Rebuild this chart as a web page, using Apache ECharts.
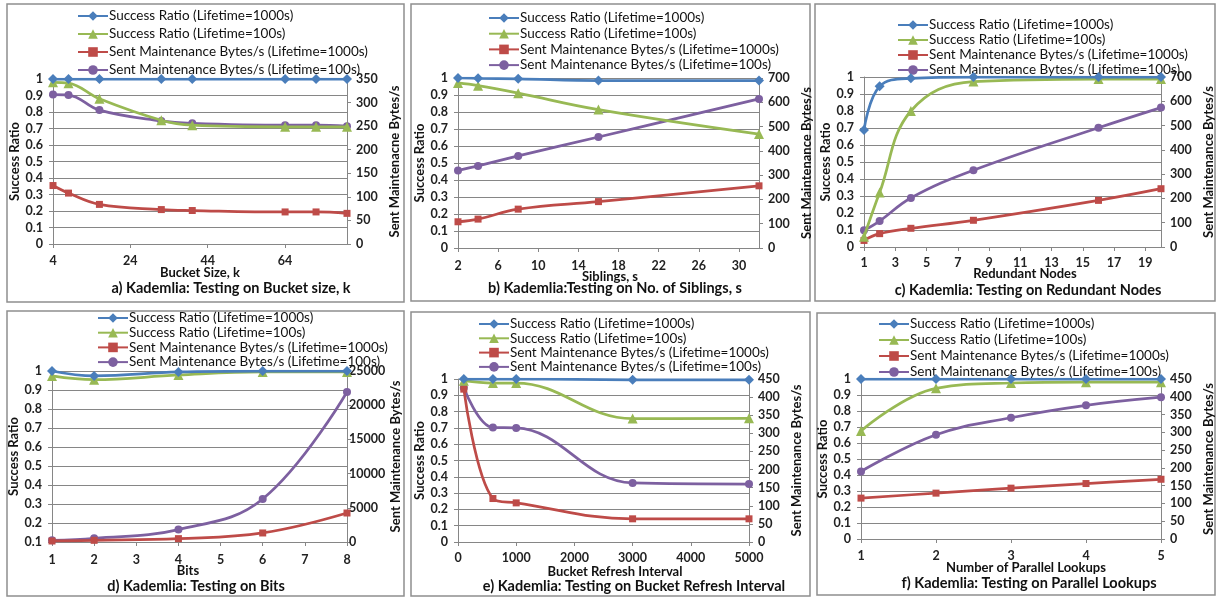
<!DOCTYPE html>
<html><head><meta charset="utf-8">
<script src="https://cdn.jsdelivr.net/npm/echarts@6/dist/echarts.min.js"></script>
<style>html,body{margin:0;padding:0;background:#fff}#c{width:1216px;height:598px}</style>
</head><body><div id="c"></div>
<script>
// ---------- data ----------
const seriesNames = ['Success Ratio (Lifetime=1000s)','Success Ratio (Lifetime=100s)','Sent Maintenance Bytes/s (Lifetime=1000s)','Sent Maintenance Bytes/s (Lifetime=100s)'];

const aX = [4, 8, 16, 32, 40, 64, 72, 80];
const aSR1000 = [1, 1, 1, 1, 1, 1, 1, 1];
const aSR100 = [0.98, 0.975, 0.88, 0.75, 0.72, 0.71, 0.71, 0.71];
const aMB1000 = [124, 108, 84, 73, 71, 68, 68, 65];
const aMB100 = [317, 316, 284, 261, 256, 252, 252, 250];
const aTicks = [4, 24, 44, 64];

const bX = [2, 4, 8, 16, 32];
const bSR1000 = [1, 0.998, 0.995, 0.985, 0.985];
const bSR100 = [0.971, 0.955, 0.911, 0.814, 0.67];
const bMB1000 = [108, 119, 160, 191, 256];
const bMB100 = [319, 338, 379, 457, 614];
const bTicks = [2, 6, 10, 14, 18, 22, 26, 30];

const cX = [1, 2, 4, 8, 16, 20];
const cSR1000 = [0.688, 0.945, 0.992, 1, 1, 1];
const cSR100 = [0.06, 0.32, 0.8, 0.973, 0.988, 0.988];
const cMB1000 = [27, 55, 77, 110, 192, 240];
const cMB100 = [69, 107, 202, 316, 491, 574];
const cTicks = [1, 3, 5, 7, 9, 11, 13, 15, 17, 19];

const dX = [1, 2, 4, 6, 8];
const dSR1000 = [1, 0.974, 0.995, 1, 1];
const dSR100 = [0.974, 0.954, 0.979, 0.995, 0.995];
const dMB1000 = [150, 245, 490, 1320, 4240];
const dMB100 = [245, 540, 1820, 6290, 21930];
const dTicks = [1, 2, 3, 4, 5, 6, 7, 8];

const eX = [100, 600, 1000, 3000, 5000];
const eSR1000 = [1, 1, 1, 0.995, 0.995];
const eSR100 = [0.99, 0.975, 0.975, 0.757, 0.759];
const eMB1000 = [422, 120, 108, 64, 64];
const eMB100 = [426, 316, 315, 163, 160];
const eTicks = [0, 1000, 2000, 3000, 4000, 5000];

const fX = [1, 2, 3, 4, 5];
const fSR1000 = [1, 1, 1, 1, 1];
const fSR100 = [0.675, 0.942, 0.975, 0.98, 0.98];
const fMB1000 = [115, 129, 143, 156, 168];
const fMB100 = [190, 293, 341, 376, 399];
const fTicks = [1, 2, 3, 4, 5];

// ---------- layout / style ----------
const FONT = 'Lato';
const COLORS = ['#4A7EBB', '#98B954', '#BE4B48', '#7D60A0'];
const SYMBOLS = ['diamond', 'triangle', 'rect', 'circle'];
const SYMSIZE = [10, 10, 7, 8];
const AXC = '#868686';

const panels = [
  {x: aX, s: [aSR1000, aSR100, aMB1000, aMB100], ticks: aTicks, xmin: 4, xmax: 80, ymin: 0, rmax: 350, rint: 50,
   grid: {left: 53, top: 79, width: 294, height: 165}, legend: {left: 77, top: 9, gap: 4},
   xname: 'Bucket Size, k', xnx: 200, xny: 273, cap: 'a) Kademlia: Testing on Bucket size, k', cx: 231, cy: 288,
   rname: 'Sent Maintenacne Bytes/s', lm: 10, xm: 10, rm: 9},
  {x: bX, s: [bSR1000, bSR100, bMB1000, bMB100], ticks: bTicks, xmin: 2, xmax: 32, ymin: 0, rmax: 700, rint: 100,
   grid: {left: 458, top: 78, width: 301, height: 170}, legend: {left: 488, top: 11, gap: 1.7},
   xname: 'Siblings, s', xnx: 610, xny: 277, cap: 'b) Kademlia:Testing on No. of Siblings, s', cx: 615, cy: 288,
   rname: 'Sent Maintenance Bytes/s', lm: 10, xm: 11, rm: 9},
  {x: cX, s: [cSR1000, cSR100, cMB1000, cMB100], ticks: cTicks, xmin: 1, xmax: 20, ymin: 0, rmax: 700, rint: 100,
   grid: {left: 864, top: 77, width: 302, height: 170}, legend: {left: 897, top: 18, gap: 1},
   xname: 'Redundant Nodes', xnx: 1025, xny: 274, cap: 'c) Kademlia: Testing on Redundant Nodes', cx: 1028, cy: 290,
   rname: 'Sent Maintenance Bytes/s', lm: 10, xm: 9, rm: 9},
  {x: dX, s: [dSR1000, dSR100, dMB1000, dMB100], ticks: dTicks, xmin: 1, xmax: 8, ymin: 0.1, rmax: 25000, rint: 5000,
   grid: {left: 52, top: 371, width: 295, height: 171}, legend: {left: 97, top: 311, gap: 0.7},
   xname: 'Bits', xnx: 188, xny: 571, cap: 'd) Kademlia: Testing on Bits', cx: 196, cy: 586,
   rname: 'Sent Maintenance Bytes/s', lm: 10, xm: 11, rm: 2},
  {x: eX, s: [eSR1000, eSR100, eMB1000, eMB100], ticks: eTicks, xmin: 0, xmax: 5000, ymin: 0, rmax: 450, rint: 50,
   grid: {left: 458, top: 379, width: 291, height: 163}, legend: {left: 478, top: 317, gap: 0.3},
   xname: 'Bucket Refresh Interval', xnx: 615, xny: 572, cap: 'e) Kademlia: Testing on Bucket Refresh Interval', cx: 634, cy: 586,
   rname: 'Sent Maintenance Bytes/s', lm: 10, xm: 9, rm: 9},
  {x: fX, s: [fSR1000, fSR100, fMB1000, fMB100], ticks: fTicks, xmin: 1, xmax: 5, ymin: 0, rmax: 450, rint: 50,
   grid: {left: 861, top: 379, width: 304, height: 160}, legend: {left: 878, top: 317, gap: 2},
   xname: 'Number of Parallel Lookups', xnx: 1026, xny: 568, cap: 'f) Kademlia: Testing on Parallel Lookups', cx: 1029, cy: 583,
   rname: 'Sent Maintenance Bytes/s', lm: 10, xm: 10, rm: 9}
];
const boxes = [
  [7, 4, 397, 298], [411, 4, 399, 297], [815, 4, 400, 297],
  [7, 311, 397, 285], [411, 312, 399, 284], [817, 313, 398, 282]
];

const grid = [], xAxis = [], yAxis = [], series = [], legend = [], graphic = [];
const plain = v => String(Math.round(v * 1000) / 1000);
const lblStyle = {fontFamily: FONT, fontSize: 12.5, fontWeight: 'bold', color: '#222', formatter: plain};
const nameStyle = {fontFamily: FONT, fontSize: 13, fontWeight: 'bold', color: '#111'};
const legText = {fontFamily: FONT, fontSize: 13.5, color: '#111', padding: [0, 0, 0, -4]};

panels.forEach((p, i) => {
  grid.push(Object.assign({containLabel: false}, p.grid));
  xAxis.push({
    type: 'value', gridIndex: i, min: p.xmin, max: p.xmax,
    axisLine: {show: true, lineStyle: {color: AXC, width: 1}},
    axisTick: {show: true, length: 4, lineStyle: {color: AXC}, customValues: p.ticks},
    axisLabel: Object.assign({margin: p.xm, customValues: p.ticks}, lblStyle),
    splitLine: {show: false}
  });
  yAxis.push({
    type: 'value', gridIndex: i, position: 'left', min: p.ymin, max: 1, interval: 0.1,
    axisLine: {show: true, lineStyle: {color: AXC, width: 1}},
    axisTick: {show: true, length: 4, lineStyle: {color: AXC}},
    axisLabel: Object.assign({margin: p.lm}, lblStyle),
    splitLine: {show: true, lineStyle: {color: AXC, width: 1}},
    name: 'Success Ratio', nameLocation: 'middle', nameRotate: 90, nameGap: 28, nameTextStyle: nameStyle
  });
  yAxis.push({
    type: 'value', gridIndex: i, position: 'right', min: 0, max: p.rmax, interval: p.rint,
    axisLine: {show: true, lineStyle: {color: AXC, width: 1}},
    axisTick: {show: true, length: 4, lineStyle: {color: AXC}},
    axisLabel: Object.assign({margin: p.rm}, lblStyle),
    splitLine: {show: false},
    name: p.rname, nameLocation: 'middle', nameRotate: 90, nameGap: 41, nameTextStyle: nameStyle
  });
  p.s.forEach((arr, k) => {
    series.push({
      type: 'line', name: seriesNames[k], xAxisIndex: i, yAxisIndex: i * 2 + (k < 2 ? 0 : 1),
      data: p.x.map((v, j) => [v, arr[j]]),
      smooth: 0.4, symbol: SYMBOLS[k], symbolSize: SYMSIZE[k], showAllSymbol: true,
      lineStyle: {color: COLORS[k], width: 2.75},
      itemStyle: {color: COLORS[k]},
      z: 10 - k, animation: false
    });
  });
  legend.push({
    orient: 'vertical', left: p.legend.left, top: p.legend.top, itemGap: p.legend.gap,
    itemWidth: 30, itemHeight: 12, padding: 0,
    data: seriesNames.map(n => ({name: n, textStyle: legText})),
    textStyle: legText,
    selectedMode: false
  });
  graphic.push({type: 'text', x: p.xnx, y: p.xny,
    style: {text: p.xname, align: 'center', verticalAlign: 'middle', font: 'bold 13px ' + FONT, fill: '#111'}});
  graphic.push({type: 'text', x: p.cx, y: p.cy,
    style: {text: p.cap, align: 'center', verticalAlign: 'middle', font: 'bold 14.5px ' + FONT, fill: '#111'}});
});
boxes.forEach(b => {
  graphic.push({type: 'rect', shape: {x: b[0], y: b[1], width: b[2], height: b[3]},
    style: {fill: null, stroke: '#8f8f8f', lineWidth: 1.5}, z: -1});
});

const chart = echarts.init(document.getElementById('c'), null, {renderer: 'canvas'});
chart.setOption({animation: false, backgroundColor: '#fff', grid, xAxis, yAxis, series, legend, graphic});
</script></body></html>
